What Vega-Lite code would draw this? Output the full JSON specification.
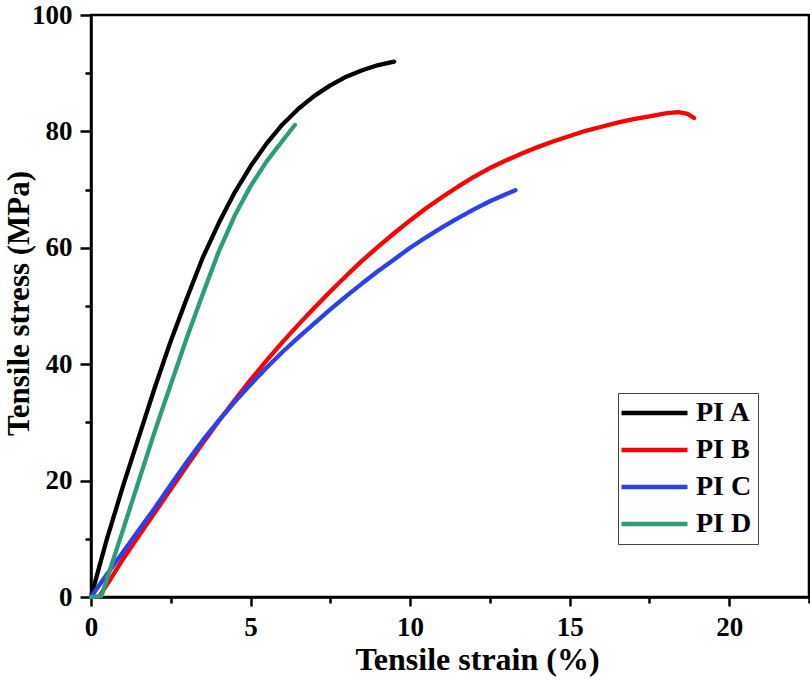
{
  "$schema": "https://vega.github.io/schema/vega-lite/v6.json",
  "width": 718,
  "height": 582,
  "autosize": {"type": "none"},
  "padding": {"left": 91, "top": 15, "right": 1, "bottom": 87},
  "background": "white",
  "config": {
    "view": {"stroke": "black", "strokeWidth": 2.5},
    "font": "Liberation Serif"
  },
  "data": {
    "values": [
      {"series": "PI A", "strain": 0, "stress": 0},
      {"series": "PI A", "strain": 0.25, "stress": 5},
      {"series": "PI A", "strain": 0.5, "stress": 10},
      {"series": "PI A", "strain": 1, "stress": 19},
      {"series": "PI A", "strain": 1.5, "stress": 27.5},
      {"series": "PI A", "strain": 2, "stress": 36},
      {"series": "PI A", "strain": 2.5, "stress": 44},
      {"series": "PI A", "strain": 3, "stress": 51.3},
      {"series": "PI A", "strain": 3.5, "stress": 58.3},
      {"series": "PI A", "strain": 4, "stress": 64.2},
      {"series": "PI A", "strain": 4.5, "stress": 69.5},
      {"series": "PI A", "strain": 5, "stress": 74},
      {"series": "PI A", "strain": 5.5, "stress": 77.9},
      {"series": "PI A", "strain": 6, "stress": 81.2},
      {"series": "PI A", "strain": 6.5, "stress": 83.9},
      {"series": "PI A", "strain": 7, "stress": 86.1},
      {"series": "PI A", "strain": 7.5, "stress": 87.9},
      {"series": "PI A", "strain": 8, "stress": 89.4},
      {"series": "PI A", "strain": 8.5, "stress": 90.5},
      {"series": "PI A", "strain": 9, "stress": 91.4},
      {"series": "PI A", "strain": 9.5, "stress": 92},

      {"series": "PI B", "strain": 0.25, "stress": 0},
      {"series": "PI B", "strain": 0.6, "stress": 3},
      {"series": "PI B", "strain": 1, "stress": 6.5},
      {"series": "PI B", "strain": 1.5, "stress": 10.5},
      {"series": "PI B", "strain": 2, "stress": 14.5},
      {"series": "PI B", "strain": 2.5, "stress": 18.5},
      {"series": "PI B", "strain": 3, "stress": 22.5},
      {"series": "PI B", "strain": 3.5, "stress": 26.4},
      {"series": "PI B", "strain": 4, "stress": 30.2},
      {"series": "PI B", "strain": 4.5, "stress": 33.8},
      {"series": "PI B", "strain": 5, "stress": 37.3},
      {"series": "PI B", "strain": 5.5, "stress": 40.6},
      {"series": "PI B", "strain": 6, "stress": 43.8},
      {"series": "PI B", "strain": 6.5, "stress": 46.8},
      {"series": "PI B", "strain": 7, "stress": 49.7},
      {"series": "PI B", "strain": 7.5, "stress": 52.5},
      {"series": "PI B", "strain": 8, "stress": 55.2},
      {"series": "PI B", "strain": 8.5, "stress": 57.8},
      {"series": "PI B", "strain": 9, "stress": 60.2},
      {"series": "PI B", "strain": 9.5, "stress": 62.5},
      {"series": "PI B", "strain": 10, "stress": 64.7},
      {"series": "PI B", "strain": 10.5, "stress": 66.8},
      {"series": "PI B", "strain": 11, "stress": 68.7},
      {"series": "PI B", "strain": 11.5, "stress": 70.5},
      {"series": "PI B", "strain": 12, "stress": 72.2},
      {"series": "PI B", "strain": 12.5, "stress": 73.7},
      {"series": "PI B", "strain": 13, "stress": 75},
      {"series": "PI B", "strain": 13.5, "stress": 76.2},
      {"series": "PI B", "strain": 14, "stress": 77.3},
      {"series": "PI B", "strain": 14.5, "stress": 78.3},
      {"series": "PI B", "strain": 15, "stress": 79.2},
      {"series": "PI B", "strain": 15.5, "stress": 80.1},
      {"series": "PI B", "strain": 16, "stress": 80.8},
      {"series": "PI B", "strain": 16.5, "stress": 81.5},
      {"series": "PI B", "strain": 17, "stress": 82.1},
      {"series": "PI B", "strain": 17.5, "stress": 82.6},
      {"series": "PI B", "strain": 18, "stress": 83.1},
      {"series": "PI B", "strain": 18.4, "stress": 83.3},
      {"series": "PI B", "strain": 18.7, "stress": 83},
      {"series": "PI B", "strain": 18.9, "stress": 82.3},

      {"series": "PI C", "strain": 0, "stress": 0},
      {"series": "PI C", "strain": 0.5, "stress": 3.9},
      {"series": "PI C", "strain": 1, "stress": 7.7},
      {"series": "PI C", "strain": 1.5, "stress": 11.5},
      {"series": "PI C", "strain": 2, "stress": 15.3},
      {"series": "PI C", "strain": 2.5, "stress": 19.3},
      {"series": "PI C", "strain": 3, "stress": 23.2},
      {"series": "PI C", "strain": 3.5, "stress": 26.9},
      {"series": "PI C", "strain": 4, "stress": 30.3},
      {"series": "PI C", "strain": 4.5, "stress": 33.5},
      {"series": "PI C", "strain": 5, "stress": 36.5},
      {"series": "PI C", "strain": 5.5, "stress": 39.4},
      {"series": "PI C", "strain": 6, "stress": 42.1},
      {"series": "PI C", "strain": 6.5, "stress": 44.6},
      {"series": "PI C", "strain": 7, "stress": 47},
      {"series": "PI C", "strain": 7.5, "stress": 49.4},
      {"series": "PI C", "strain": 8, "stress": 51.7},
      {"series": "PI C", "strain": 8.5, "stress": 53.9},
      {"series": "PI C", "strain": 9, "stress": 56},
      {"series": "PI C", "strain": 9.5, "stress": 58},
      {"series": "PI C", "strain": 10, "stress": 60},
      {"series": "PI C", "strain": 10.5, "stress": 61.8},
      {"series": "PI C", "strain": 11, "stress": 63.5},
      {"series": "PI C", "strain": 11.5, "stress": 65.1},
      {"series": "PI C", "strain": 12, "stress": 66.6},
      {"series": "PI C", "strain": 12.5, "stress": 68},
      {"series": "PI C", "strain": 13, "stress": 69.2},
      {"series": "PI C", "strain": 13.3, "stress": 69.9},

      {"series": "PI D", "strain": 0, "stress": 0},
      {"series": "PI D", "strain": 0.33, "stress": 0.2},
      {"series": "PI D", "strain": 0.6, "stress": 4.8},
      {"series": "PI D", "strain": 1, "stress": 11.5},
      {"series": "PI D", "strain": 1.5, "stress": 20},
      {"series": "PI D", "strain": 2, "stress": 28.5},
      {"series": "PI D", "strain": 2.5, "stress": 36.5},
      {"series": "PI D", "strain": 3, "stress": 44.5},
      {"series": "PI D", "strain": 3.5, "stress": 52},
      {"series": "PI D", "strain": 4, "stress": 59.3},
      {"series": "PI D", "strain": 4.5, "stress": 65.5},
      {"series": "PI D", "strain": 5, "stress": 70.6},
      {"series": "PI D", "strain": 5.5, "stress": 74.8},
      {"series": "PI D", "strain": 6, "stress": 78.4},
      {"series": "PI D", "strain": 6.39, "stress": 81.1}
    ]
  },
  "mark": {"type": "line", "strokeWidth": 4.3, "strokeCap": "round", "strokeJoin": "round"},
  "encoding": {
    "x": {
      "field": "strain",
      "type": "quantitative",
      "scale": {"domain": [0, 22.5], "nice": false, "zero": false},
      "axis": {
        "title": "Tensile strain (%)",
        "titleX": 386,
        "values": [0, 2.5, 5, 7.5, 10, 12.5, 15, 17.5, 20, 22.5],
        "labelExpr": "datum.value % 5 === 0 ? format(datum.value, 'd') : ''",
        "grid": false,
        "domainColor": "black",
        "domainWidth": 2.5,
        "tickColor": "black",
        "tickWidth": 2.5,
        "tickSize": {"condition": {"test": "datum.value % 5 === 0", "value": 9}, "value": 6},
        "labelFont": "Liberation Serif",
        "labelFontWeight": "bold",
        "labelFontSize": 27,
        "labelColor": "black",
        "labelPadding": 8,
        "labelFlush": false,
        "labelOverlap": false,
        "titleFont": "Liberation Serif",
        "titleFontWeight": "bold",
        "titleFontSize": 32,
        "titleColor": "black",
        "titlePadding": 4
      }
    },
    "y": {
      "field": "stress",
      "type": "quantitative",
      "scale": {"domain": [0, 100], "nice": false},
      "axis": {
        "title": "Tensile stress (MPa)",
        "titleX": -63,
        "titleY": 288,
        "titleAngle": -90,
        "titleAlign": "center",
        "titleBaseline": "alphabetic",
        "values": [0, 10, 20, 30, 40, 50, 60, 70, 80, 90, 100],
        "labelExpr": "datum.value % 20 === 0 ? format(datum.value, 'd') : ''",
        "grid": false,
        "domainColor": "black",
        "domainWidth": 2.5,
        "tickColor": "black",
        "tickWidth": 2.5,
        "tickSize": {"condition": {"test": "datum.value % 20 === 0", "value": 11}, "value": 6},
        "labelFont": "Liberation Serif",
        "labelFontWeight": "bold",
        "labelFontSize": 27,
        "labelColor": "black",
        "labelPadding": 8,
        "labelFlush": false,
        "labelOverlap": false,
        "titleFont": "Liberation Serif",
        "titleFontWeight": "bold",
        "titleFontSize": 31,
        "titleColor": "black"
      }
    },
    "color": {
      "field": "series",
      "type": "nominal",
      "scale": {
        "domain": ["PI A", "PI B", "PI C", "PI D"],
        "range": ["#000000", "#FF0000", "#2B40F0", "#2E9C76"]
      },
      "legend": {
        "title": null,
        "orient": "none",
        "legendX": 527,
        "legendY": 378,
        "symbolType": "M-1.5,0H4.5",
        "symbolSize": 484,
        "symbolStrokeWidth": 4.5,
        "labelFont": "Liberation Serif",
        "labelFontWeight": "bold",
        "labelFontSize": 28,
        "labelColor": "black",
        "labelOffset": 44,
        "strokeColor": "#444444",
        "fillColor": "white",
        "padding": 6,
        "rowPadding": 9,
        "cornerRadius": 0
      }
    }
  }
}
